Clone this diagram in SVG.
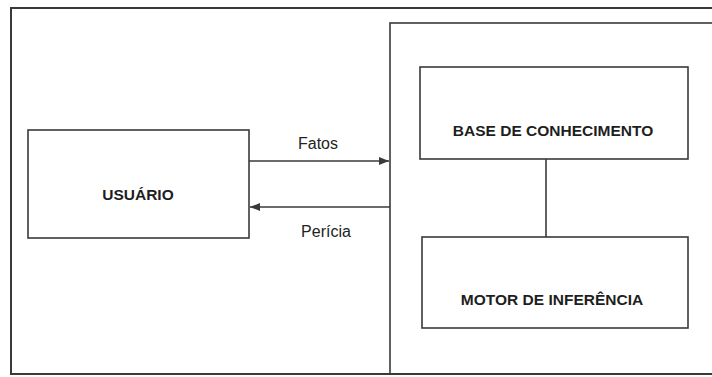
<svg xmlns="http://www.w3.org/2000/svg" width="712" height="377" viewBox="0 0 712 377">
<style>
.frame{fill:none;stroke:#3a3a3a;stroke-width:2}
.box{fill:#fff;stroke:#3a3a3a;stroke-width:1.6}
.conn{fill:none;stroke:#3a3a3a;stroke-width:1.6}
.lbl{font-family:"Liberation Sans",Arial,sans-serif;font-weight:bold;font-size:15.5px;fill:#1e1e1e;text-anchor:middle}
.edge{font-family:"Liberation Sans",Arial,sans-serif;font-size:16px;fill:#222;text-anchor:middle}
</style>
<defs>
<marker id="ah" viewBox="0 0 10 8" refX="10" refY="4" markerWidth="10" markerHeight="8" markerUnits="userSpaceOnUse" orient="auto">
<path d="M0,0 L10,4 L0,8 Z" fill="#3a3a3a"/>
</marker>
</defs>
<rect width="712" height="377" fill="#fff"/>
<g id="outer-frame">
<rect class="frame" x="11" y="8" width="720" height="366"/>
</g>
<g id="system-panel">
<rect class="frame" x="390" y="23" width="340" height="351" style="stroke-width:1.6"/>
</g>
<g id="usuario">
<rect class="box" x="28" y="130" width="221" height="108"/>
<text class="lbl" x="138" y="200">USUÁRIO</text>
</g>
<g id="base-conhecimento">
<rect class="box" x="420" y="67" width="268" height="92"/>
<text class="lbl" x="553" y="136">BASE DE CONHECIMENTO</text>
</g>
<g id="motor-inferencia">
<rect class="box" x="422" y="237" width="266" height="91"/>
<text class="lbl" x="552" y="305">MOTOR DE INFERÊNCIA</text>
</g>
<g id="connectors">
<line class="conn" x1="249" y1="161" x2="389" y2="161" marker-end="url(#ah)"/>
<line class="conn" x1="390" y1="207" x2="250" y2="207" marker-end="url(#ah)"/>
<line class="conn" x1="546" y1="159" x2="546" y2="237"/>
<text class="edge" x="318" y="149">Fatos</text>
<text class="edge" x="326" y="237">Perícia</text>
</g>
</svg>
